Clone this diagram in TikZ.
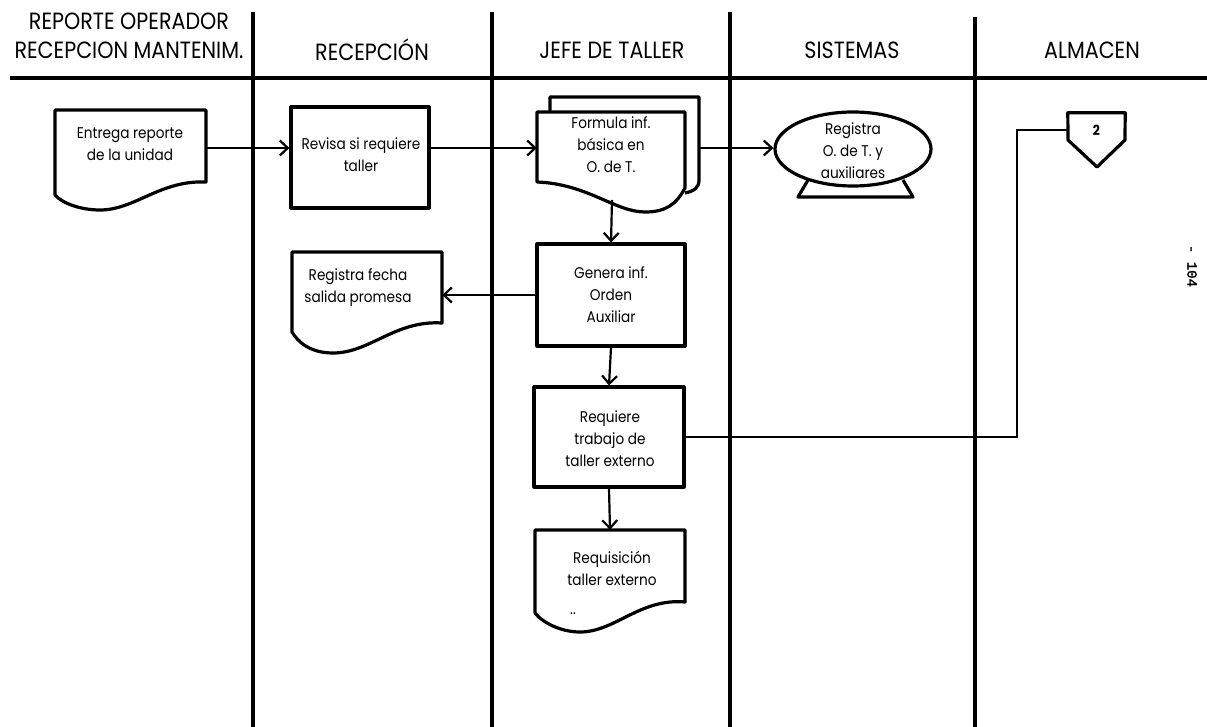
\documentclass[tikz,border=0pt]{standalone}
\usepackage{fontspec}
\setmainfont{Poppins}[FakeStretch=0.88]
\newfontfamily\pagefont{Liberation Mono}[FakeBold=2]
\usetikzlibrary{arrows.meta,shapes.geometric}

\begin{document}
\begin{tikzpicture}[x=1pt,y=-1pt,
  lane/.style={line width=3.6pt},
  shapeline/.style={line width=3.2pt,line join=round},
  box/.style={draw,shapeline,fill=white,inner sep=0pt},
  slot/.style={inner sep=0pt,minimum width=#1},
  txt/.style={inner sep=0pt,align=center,font=\fontsize{15.5}{22}\selectfont},
  head/.style={inner sep=0pt,align=center,font=\fontsize{23.5}{29}\selectfont},
  arr/.style={line width=2.2pt,-{Straight Barb[length=8pt,width=15pt]}},
  link/.style={line width=2.2pt}]
\useasboundingbox (0,0) rectangle (1207,727);

% swim lanes
\draw[lane] (10,78) -- (1207,78);
\draw[lane] (253,12) -- (253,727);
\draw[lane] (492,12) -- (492,727);
\draw[lane] (730,12) -- (730,727);
\draw[lane] (975,17) -- (975,727);

\node[head] (h1) at (129,36) {REPORTE OPERADOR\\RECEPCION MANTENIM.};
\node[head] (h2) at (372,50) {RECEPCIÓN};
\node[head] (h3) at (612,50) {JEFE DE TALLER};
\node[head] (h4) at (852,50) {SISTEMAS};
\node[head] (h5) at (1092,50) {ALMACEN};

% document: Entrega reporte
\node[slot=151pt,minimum height=76pt] (d1) at (130.5,148) {};
\draw[shapeline,fill=white] (55,110) -- (206,110) -- (206,182)
  .. controls (160,180) and (135,210) .. (100,210)
  .. controls (80,210) and (62,203) .. (55,195) -- cycle;
\node[txt] (d1t) at (130,144) {Entrega reporte\\de la unidad};

% process: Revisa si requiere taller
\node[box,minimum width=138pt,minimum height=101pt] (r2) at (360,157.5) {};
\node[txt] (r2t) at (361,155) {Revisa si requiere\\taller};

% multiple document: Formula inf.
\node[slot=149pt,minimum height=102pt] (d3back) at (624.5,148) {};
\node[slot=148pt,minimum height=72pt] (d3) at (611,148) {};
\draw[shapeline] (550,112) -- (550,97) -- (699,97) -- (699,180)
  .. controls (699,188) and (694,191) .. (685,193);
\draw[shapeline,fill=white] (537,112) -- (685,112) -- (685,188)
  .. controls (676,205) and (665,212) .. (645,212)
  .. controls (615,212) and (588,184) .. (537,182) -- cycle;
\coordinate (d3b) at (612,200);
\node[txt] (d3t) at (611,145) {Formula inf.\\básica en\\O. de T.};

% on-line storage: Registra O. de T.
\draw[shapeline] (808,180) -- (798,197) -- (913,197) -- (903,180);
\node[draw,shapeline,fill=white,ellipse,inner sep=0pt,
  minimum width=156pt,minimum height=74pt] (e3) at (853,149) {};
\node[txt] (e3t) at (853,151) {Registra\\O. de T. y\\auxiliares};

% process: Genera inf.
\node[box,minimum width=148pt,minimum height=102pt] (r4) at (611,295) {};
\node[txt] (r4t) at (611,295) {Genera inf.\\Orden\\Auxiliar};

% document: Registra fecha
\node[slot=150pt,minimum height=86pt] (d5) at (367,295) {};
\draw[shapeline,fill=white] (292,252) -- (442,252) -- (442,323)
  .. controls (395,320) and (370,353) .. (333,353)
  .. controls (310,353) and (298,342) .. (292,332) -- cycle;
\node[txt] (d5t) at (358,288) {Registra fecha\\salida promesa};

% process: Requiere trabajo
\node[box,minimum width=150pt,minimum height=100pt] (r6) at (609,437) {};
\node[txt] (r6t) at (610,439) {Requiere\\trabajo de\\taller externo};

% document: Requisicion
\node[slot=150pt,minimum height=72pt] (d7) at (610,566) {};
\draw[shapeline,fill=white] (535,530) -- (685,530) -- (685,602)
  .. controls (640,598) and (615,632) .. (580,632)
  .. controls (560,632) and (542,622) .. (535,613) -- cycle;
\node[txt] (d7t) at (612,568) {Requisición\\taller externo};
\node[txt] (d7m) at (573,614) {..};

% off-page connector 2
\node[inner sep=0pt,minimum width=57pt,minimum height=34pt,
  font=\fontsize{14}{14}\selectfont\bfseries] (c2) at (1096.5,130) {2};
\draw[shapeline] (c2.north west) -- (c2.north east) -- (1125,140)
  -- (1097,167) -- (1068,140) -- cycle;
\coordinate (bend) at (1017,130);

% flow
\draw[arr] (d1.east) -- (d1.east -| r2.west);
\draw[arr] (d1.east -| r2.east) -- (d1.east -| d3.west);
\draw[arr] (d3back.east) -- (d3back.east -| e3.west);
\draw[arr] (d3b) -- (r4.north);
\draw[arr] (r4.west) -- (r4.west -| d5.east);
\draw[arr] (r4.south) -- (r6.north);
\draw[arr] (r6.south) -- (d7.north);
\draw[link] (r6.east) -| (bend) -- (c2.west);

% page number
\node[inner sep=0pt,rotate=-90,font=\pagefont\fontsize{14}{14}\selectfont] (pg) at (1192,266) {- 104};
\end{tikzpicture}
\end{document}
